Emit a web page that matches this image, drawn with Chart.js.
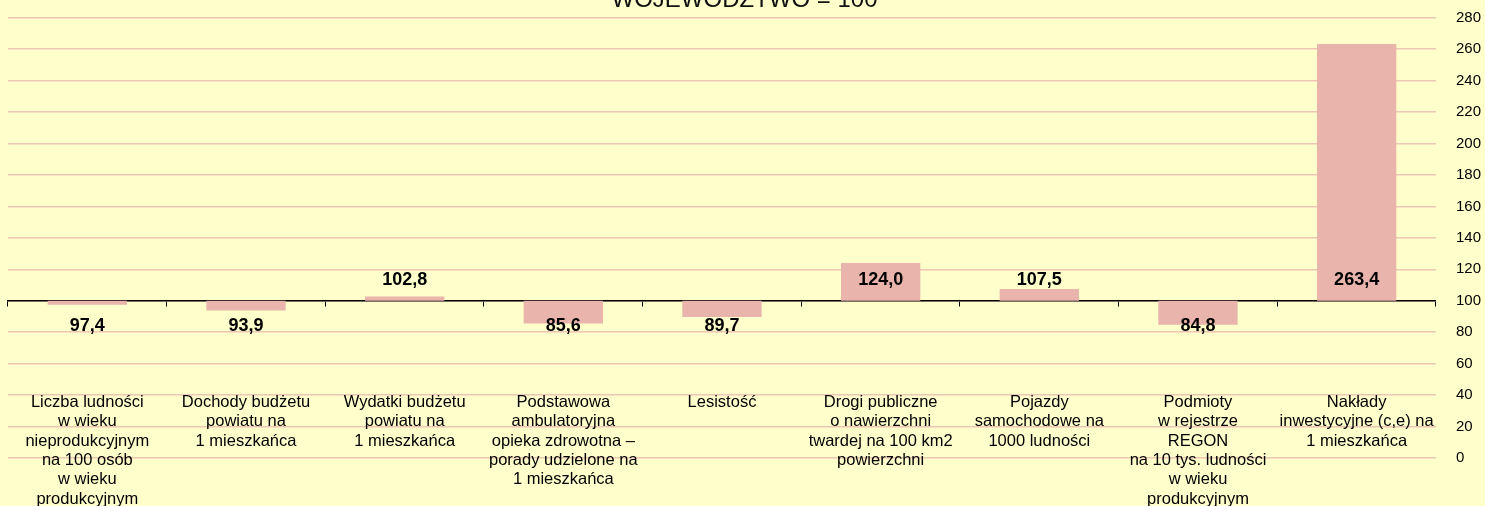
<!DOCTYPE html>
<html>
<head>
<meta charset="utf-8">
<script src="https://cdn.jsdelivr.net/npm/chart.js"></script>
<style>
    html, body { margin: 0; padding: 0; background: #FFFFCC; overflow: hidden; }
    #wrap { position: relative; width: 1485px; height: 520px; margin-top: -14px; }
</style>
</head>
<body>
<div id="wrap"><canvas id="myChart"></canvas></div>
<script>
// Categories (multi-line axis labels)
const categories = [
    ['Liczba ludności', 'w wieku', 'nieprodukcyjnym', 'na 100 osób', 'w wieku', 'produkcyjnym'],
    ['Dochody budżetu', 'powiatu na', '1 mieszkańca'],
    ['Wydatki budżetu', 'powiatu na', '1 mieszkańca'],
    ['Podstawowa', 'ambulatoryjna', 'opieka zdrowotna –', 'porady udzielone na', '1 mieszkańca'],
    ['Lesistość'],
    ['Drogi publiczne', 'o nawierzchni', 'twardej na 100 km2', 'powierzchni'],
    ['Pojazdy', 'samochodowe na', '1000 ludności'],
    ['Podmioty', 'w rejestrze', 'REGON', 'na 10 tys. ludności', 'w wieku', 'produkcyjnym'],
    ['Nakłady', 'inwestycyjne (c,e) na', '1 mieszkańca']
];
const values = [97.4, 93.9, 102.8, 85.6, 89.7, 124.0, 107.5, 84.8, 263.4];
const baseValue = 100;   // województwo = 100
const chartTitle = 'WOJEWÓDZTWO = 100';

const FONT = "'Liberation Sans', Arial, sans-serif";

// Draws the value labels above/below the base line
const valueLabels = {
    id: 'valueLabels',
    afterDatasetsDraw(chart) {
        const ctx = chart.ctx;
        const yScale = chart.scales.y;
        const baseY = yScale.getPixelForValue(baseValue);
        const meta = chart.getDatasetMeta(0);
        ctx.save();
        ctx.font = 'bold 18px ' + FONT;
        ctx.fillStyle = '#000';
        ctx.textAlign = 'center';
        ctx.textBaseline = 'middle';
        meta.data.forEach((bar, i) => {
            const v = values[i];
            const y = v >= baseValue ? baseY - 21 : baseY + 25;
            ctx.fillText(v.toFixed(1).replace('.', ','), bar.x, y);
        });
        ctx.restore();
    }
};

const ctx = document.getElementById('myChart').getContext('2d');
const myChart = new Chart(ctx, {
    type: 'bar',
    data: {
        labels: categories,
        datasets: [{
            data: values.map(v => [baseValue, v]),  // floating bars from 100
            backgroundColor: '#E8B4AC',
            borderWidth: 0,
            barPercentage: 0.5,
            categoryPercentage: 1.0
        }]
    },
    options: {
        responsive: true,
        maintainAspectRatio: false,
        animation: false,
        layout: {
            padding: { left: 8, right: 4, top: 0, bottom: 48 }
        },
        plugins: {
            legend: { display: false },
            tooltip: { enabled: false },
            title: {
                display: true,
                text: chartTitle,
                color: '#111',
                font: { family: FONT, size: 24, weight: 'normal', lineHeight: 1.2 },
                padding: { top: 0, bottom: 3 }
            }
        },
        scales: {
            x: {
                type: 'category',
                position: { y: baseValue },
                offset: true,
                z: 1,
                // big label padding should not shrink the plot sideways
                afterFit: (scale) => {
                    scale.paddingLeft = 0;
                    scale.paddingRight = 0;
                },
                grid: {
                    display: true,
                    drawOnChartArea: false,
                    drawTicks: true,
                    tickLength: 5,
                    color: '#000',
                    lineWidth: 1
                },
                border: { display: true, color: '#000', width: 1.5 },
                ticks: {
                    autoSkip: false,
                    maxRotation: 0,
                    padding: 87,
                    color: '#000',
                    font: { family: FONT, size: 16.5, lineHeight: 1.17 }
                }
            },
            y: {
                position: 'right',
                min: 0,
                max: 280,
                // tick padding is counted twice in the width, drop one
                afterFit: (scale) => {
                    scale.width -= 20;
                },
                grid: {
                    color: '#EDC6B4',
                    lineWidth: 1.5,
                    drawTicks: false
                },
                border: { display: false },
                ticks: {
                    stepSize: 20,
                    padding: 20,
                    color: '#000',
                    font: { family: FONT, size: 15 }
                }
            }
        }
    },
    plugins: [valueLabels]
});
</script>
</body>
</html>
